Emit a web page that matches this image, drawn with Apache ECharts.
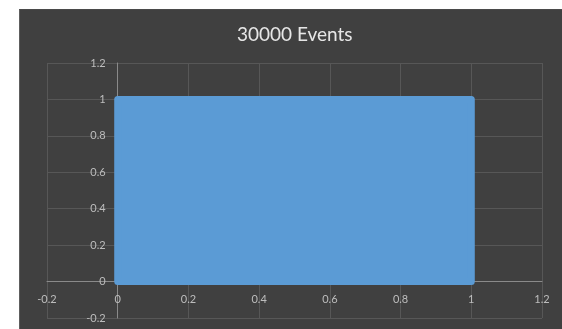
<!DOCTYPE html>
<html>
<head>
    <meta charset="utf-8">
    <title>30000 Events</title>
    <script src="https://cdn.jsdelivr.net/npm/echarts@6/dist/echarts.min.js"></script>
    <style>
        body { margin: 0; background: #ffffff; }
        #bg { position: absolute; left: 19px; top: 9px; width: 543px; height: 320px; background: #404040; border-left: 1px solid #5e5e5e; border-top: 1px solid #4a4a4a; box-sizing: border-box; }
        #main { position: absolute; left: 0; top: 0; width: 562px; height: 329px; }
    </style>
</head>
<body>
<div id="bg"></div>
<div id="main"></div>
<script type="text/javascript">
    // chart title
    var titleText = '30000 Events';
    // axis ranges (tick labels -0.2 ... 1.2)
    var xMin = -0.2, xMax = 1.2, xStep = 0.2;
    var yMin = -0.2, yMax = 1.2, yStep = 0.2;
    // the 30000 events fill the unit square: [xStart, yStart, xEnd, yEnd]
    var eventRegion = [[0, 0, 1, 1]];

    var gridLeft = 47, gridRight = 20, gridTop = 63, gridBottom = 11;
    var gridW = 562 - gridLeft - gridRight;
    var gridH = 329 - gridTop - gridBottom;
    // axes cross at zero: shift them inwards from the grid edges
    var xAxisShift = -gridH * (0 - yMin) / (yMax - yMin);
    var yAxisShift = -gridW * (0 - xMin) / (xMax - xMin);

    var myChart = echarts.init(document.getElementById('main'));

    var option = {
        animation: false,
        title: {
            text: titleText,
            left: 232,
            top: 20,
            textStyle: { color: '#e6e6e6', fontSize: 19, fontWeight: 'normal', fontFamily: 'Lato' }
        },
        grid: { left: gridLeft, right: gridRight, top: gridTop, bottom: gridBottom, outerBoundsMode: 'none' },
        xAxis: {
            type: 'value',
            position: 'bottom',
            offset: xAxisShift,
            min: xMin, max: xMax, interval: xStep,
            axisLine: { onZero: false, lineStyle: { color: '#8a8a8a', width: 1 } },
            axisTick: { show: false },
            axisLabel: { color: '#bdbdbd', fontSize: 11, fontFamily: 'Lato', margin: 12 },
            splitLine: { show: true, lineStyle: { color: '#575757', width: 1 } }
        },
        yAxis: {
            type: 'value',
            position: 'left',
            offset: yAxisShift,
            min: yMin, max: yMax, interval: yStep,
            axisLine: { show: true, onZero: false, lineStyle: { color: '#8a8a8a', width: 1 } },
            axisTick: { show: false },
            axisLabel: { color: '#bdbdbd', fontSize: 11, fontFamily: 'Lato', margin: 12 },
            splitLine: { show: true, lineStyle: { color: '#575757', width: 1 } }
        },
        series: [{
            type: 'custom',
            data: eventRegion,
            encode: { x: [0, 2], y: [1, 3] },
            renderItem: function (params, api) {
                var p0 = api.coord([api.value(0), api.value(3)]);
                var p1 = api.coord([api.value(2), api.value(1)]);
                return {
                    type: 'rect',
                    shape: { x: p0[0], y: p0[1], width: p1[0] - p0[0], height: p1[1] - p0[1] },
                    style: {
                        fill: '#5b9bd5',
                        stroke: '#5b9bd5',
                        lineWidth: 7,
                        lineJoin: 'round'
                    }
                };
            }
        }]
    };

    myChart.setOption(option);
</script>
</body>
</html>
